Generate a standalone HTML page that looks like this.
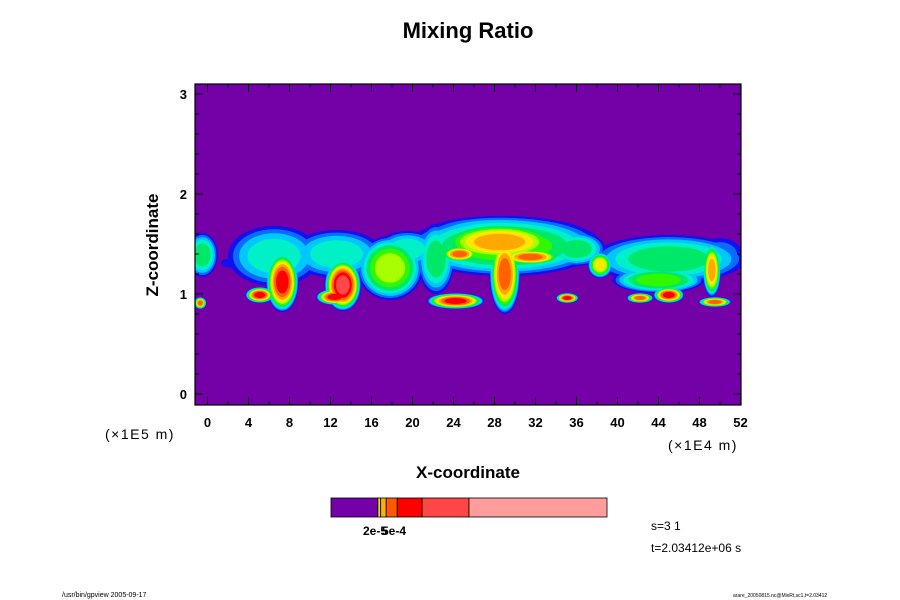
<!DOCTYPE html>
<html><head><meta charset="utf-8"><style>
body{margin:0;background:#fff;}
svg{display:block;font-family:"Liberation Sans",sans-serif;}
</style></head><body>
<svg id="chart" width="900" height="600" viewBox="0 0 900 600">
<text x="468" y="38" text-anchor="middle" font-size="22" font-weight="bold">Mixing Ratio</text>
<defs><clipPath id="pc"><rect x="195" y="84" width="546" height="321"/></clipPath></defs>
<rect x="195" y="84" width="546" height="321" fill="#7400a8"/>
<g id="field" clip-path="url(#pc)"></g>
<rect x="195" y="84" width="546" height="321" fill="none" stroke="#000" stroke-width="1.2"/>
<g id="axes"></g>
<text x="468" y="478" text-anchor="middle" font-size="17" font-weight="bold">X-coordinate</text>
<text transform="translate(158,245) rotate(-90)" text-anchor="middle" font-size="17" font-weight="bold">Z-coordinate</text>
<text x="105" y="439" font-size="14" letter-spacing="1.5">(×1E5 m)</text>
<text x="668" y="450" font-size="14" letter-spacing="1.5">(×1E4 m)</text>
<g id="cbar"></g>
<text x="363" y="535" font-size="12" font-weight="bold">2e-5</text>
<text x="382" y="535" font-size="12" font-weight="bold">5e-4</text>
<text x="651" y="530" font-size="12">s=3 1</text>
<text x="651" y="552" font-size="12">t=2.03412e+06 s</text>
<text x="62" y="597" font-size="7">/usr/bin/gpview 2005-09-17</text>
<text x="733" y="597" font-size="5">arare_20050815.nc@MixRt,sc1,t=2.03412</text>
</svg>
<script>
const levelColors=["#1010f0","#0a6cff","#00c8ff","#00f0c8","#00e868","#30f800","#a8ff00","#ffe800","#ffa800","#ff6000","#ff0000","#ff4848"];
const blobX=[-0.5,-0.7,6.5,7.3,5.1,12.6,13.2,12.4,17.8,29,28.5,29,24.6,31.5,22.3,36,24.2,35.1,38.3,45,44,45,42.2,49.2,49.5,50,2.5,19.5,28.5];
const blobZ=[1.39,0.91,1.38,1.12,0.99,1.4,1.09,0.97,1.26,1.48,1.52,1.2,1.4,1.37,1.35,1.45,0.93,0.96,1.29,1.35,1.14,0.99,0.96,1.24,0.92,1.39,1.31,1.45,1.62];
const blobHW=[1.5,0.6,4.5,1.6,1.4,4.5,1.8,1.8,3.2,9.5,6,1.5,1.8,3,1.8,2.8,2.8,1.1,1.2,7.5,4.5,1.5,1.3,0.9,1.6,2.2,1.2,3,7];
const blobHH=[0.22,0.06,0.3,0.3,0.08,0.24,0.26,0.08,0.32,0.3,0.2,0.4,0.08,0.08,0.35,0.17,0.08,0.05,0.13,0.24,0.13,0.08,0.05,0.27,0.05,0.17,0.05,0.18,0.16];
const blobPeak=[4,9,3,10,10,3,11,10,6,5,8,9,9,9,4,4,10,10,7,4,5,10,9,8,9,1,0,3,3];
const xTicks=[0,4,8,12,16,20,24,28,32,36,40,44,48,52];
const yTicks=[0,1,2,3];
const cbarStops=[0,0.17,0.18,0.2,0.24,0.33,0.5,1];
const cbarColors=["#7400a8","#e8e800","#ffb000","#ff5a00","#ff0000","#ff4646","#ff9c9c"];
const NS="http://www.w3.org/2000/svg";
const sx=v=>207.5+v*10.25, sy=v=>394-v*100;
const field=document.getElementById('field');
for(let L=0;L<levelColors.length;L++){
  for(let i=0;i<blobX.length;i++){
    if(blobPeak[i]<L)continue;
    const f=Math.pow(1-L/(blobPeak[i]+1),0.4);
    const e=document.createElementNS(NS,'ellipse');
    e.setAttribute('cx',sx(blobX[i]));e.setAttribute('cy',sy(blobZ[i]));
    e.setAttribute('rx',blobHW[i]*10.25*f);e.setAttribute('ry',blobHH[i]*100*f);
    e.setAttribute('fill',levelColors[L]);
    
    
    field.appendChild(e);
  }
}
const axes=document.getElementById('axes');
function line(x1,y1,x2,y2){const l=document.createElementNS(NS,'line');l.setAttribute('x1',x1);l.setAttribute('y1',y1);l.setAttribute('x2',x2);l.setAttribute('y2',y2);l.setAttribute('stroke','#000');l.setAttribute('stroke-width','1');


axes.appendChild(l);}
function txt(x,y,s,a){const t=document.createElementNS(NS,'text');t.setAttribute('x',x);t.setAttribute('y',y);t.setAttribute('text-anchor',a);t.setAttribute('font-size','13');t.setAttribute('font-weight','bold');t.textContent=s;


axes.appendChild(t);}
for(let v=0;v<=52;v+=2){const x=sx(v),m=v%4===0?8:4;line(x,405,x,405-m);line(x,84,x,84+m);}
xTicks.forEach(v=>txt(sx(v),427,String(v),'middle'));
for(let k=0;k<=15;k++){const v=k*0.2,y=sy(v),m=k%5===0?8:4;line(195,y,195+m,y);line(741,y,741-m,y);}
yTicks.forEach(v=>txt(187,sy(v)+5,String(v),'end'));
const cb=document.getElementById('cbar');
for(let i=0;i<cbarColors.length;i++){const r=document.createElementNS(NS,'rect');const x0=331+cbarStops[i]*276,x1=331+cbarStops[i+1]*276;
r.setAttribute('x',x0);r.setAttribute('y',498);r.setAttribute('width',x1-x0);r.setAttribute('height',19);r.setAttribute('fill',cbarColors[i]);r.setAttribute('stroke','#000');r.setAttribute('stroke-width','0.8');


cb.appendChild(r);}
</script>
</body></html>
